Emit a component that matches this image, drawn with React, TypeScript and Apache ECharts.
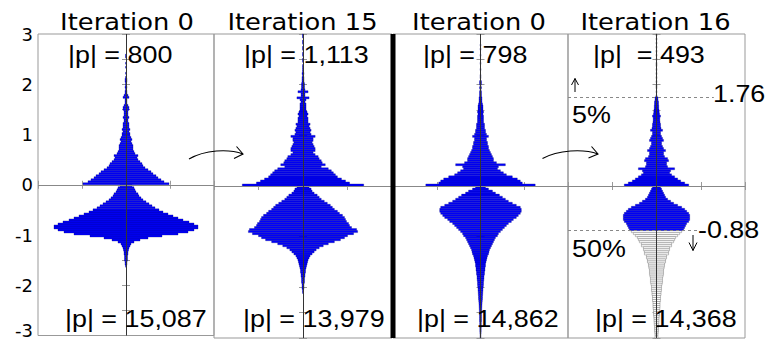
import React, { useEffect, useRef } from 'react';
import * as echarts from 'echarts';

// ---------------- data ----------------
const BIN = 0.04; // histogram bin width on the value (y) axis
const titles = ['Iteration 0', 'Iteration 15', 'Iteration 0', 'Iteration 16'];
const topCounts = ['|p| = 800', '|p| = 1,113', '|p| = 798', '|p|  = 493'];
const bottomCounts = ['|p| = 15,087', '|p| = 13,979', '|p| = 14,862', '|p| = 14,368'];
const yTickValues = [-3, -2, -1, 0, 1, 2, 3];

// half-widths of the bins above zero (from 0 upward) and below zero (from 0 downward)
const p1Up = [43, 38, 35, 32, 30, 27, 25, 22, 19, 17, 16, 14, 12, 11, 12, 9, 8, 7, 7, 7, 6, 5, 6, 5, 4, 4, 3, 4, 3, 3, 3, 2, 2, 3, 2, 2, 2, 3, 3, 2, 1, 1, 1, 3, 2, 1, 1, 0.5, 1, 0.5, 0.5, 1, 1, 0.5, 0, 0.5, 0, 0, 0.5, 0, 0.5, 0, 0, 0.5, 0.5, 0];
const p1Down = [6, 8, 9, 10, 12, 13, 15, 17, 20, 23, 26, 29, 33, 37, 42, 47, 52, 57, 63, 68, 72, 72, 68, 62, 52, 36, 22, 14, 8, 5, 4, 3, 2.5, 2, 2, 1.5, 1.5, 1.5, 1, 1, 0.5];

const p2Up = [60, 46, 42, 38, 34, 32, 30, 28, 25, 18, 22, 19, 18, 16, 15, 12, 10, 12, 12, 11, 10, 9, 10, 10, 12, 8, 7, 8, 7, 6, 7, 5, 5, 5, 4, 5, 4, 3, 3, 3, 3, 2, 3, 6, 2, 2, 5, 2, 1.5, 1.5, 1.5, 1, 1, 1, 0.5, 1, 0.5, 0.5, 0.5, 0.5, 0, 0.5, 0.5, 0, 0.5, 0.5, 0, 0.5, 0.5, 0, 0.5, 0.5, 0, 0.5, 0.5];
const p2Down = [6, 8, 9, 11, 14, 16, 18, 21, 24, 27, 29, 31, 34, 36, 39, 41, 42, 43, 45, 46, 48, 53, 54, 50, 44, 41, 37, 31, 25, 20, 16, 13, 11, 9, 7, 6, 5, 4.5, 4, 3.5, 3, 2.5, 2.5, 2, 2, 1.5, 1.5, 1.5, 1, 1, 1, 0.5, 0.5];

const p3Up = [55, 42, 40, 37, 32, 26, 23, 20, 17, 18, 25, 16, 13, 13, 12, 11, 10, 9, 8, 8, 7, 7, 6, 6, 8, 6, 5, 5, 4, 4, 4, 3, 3, 3, 3, 2.5, 3, 2.5, 2.5, 2.5, 2, 1.5, 1.5, 1.5, 1, 1, 1, 0.5, 1, 0.5, 1, 1, 0, 0.5, 0.5, 0, 0, 0.5, 0, 0, 0.5, 0, 0, 0, 0.5, 0, 0, 0.5, 0, 0.5];
const p3Down = [5, 8, 12, 15, 19, 22, 25, 28, 32, 36, 40, 41, 41, 40, 38, 36, 33, 31, 28, 26, 24, 22, 20, 18, 17, 15, 14, 13, 12, 11, 10, 9, 8.5, 8, 7, 6.5, 6, 5.5, 5, 5, 4.5, 4.5, 4, 4, 3.5, 3.5, 3.3, 3, 3, 2.8, 2.5, 2.5, 2.3, 2.2, 2, 2, 1.8, 1.6, 1.5, 1.4, 1.3, 1.2, 1.1, 1, 1, 1, 1, 0.8, 0.8, 0.8, 0.7, 0.7, 0.6, 0.5, 0.5];

const p4Up = [32, 28, 24, 21, 18, 15, 13, 14, 18, 11, 10, 10, 12, 11, 8, 7, 7, 9, 7, 6, 5, 5, 7, 6, 5, 4, 4, 6, 4.5, 4, 4, 3.5, 3.3, 3.3, 4, 3, 2.7, 2.5, 2.2, 2.2, 2, 2, 1.5, 1.5, 0.5, 0, 0.5, 0, 0.5, 0.5, 0, 0.5, 0, 0.5, 0, 0.5, 0, 0.5, 0, 0.5, 0.5, 0, 0.5, 0, 0.5, 0, 0.5, 0, 0.5, 0, 0.5, 0, 0.5, 0, 0.5];
const p4Down = [4, 5, 6, 7, 8, 9, 11, 14, 17, 21, 25, 28, 30, 32, 33, 33, 33, 32, 30, 29, 28, 27, 25, 23, 21, 19, 18, 17, 15, 15, 13, 13, 12, 12, 10, 10, 9, 9, 8, 8, 7.5, 7, 7, 7, 6.5, 6, 6, 6, 5.5, 5, 5, 5, 4.5, 4.5, 4, 4, 4, 3.5, 3.5, 3.5, 3.3, 3, 3, 3, 2.7, 2.5, 2.5, 2.3, 2.2, 2, 2, 2, 1.7, 1.5, 1.5];

// panel 4 selection thresholds and annotations
const p4Low = -0.88;
const p4High = 1.76;
const cutLabels = ['1.76', '-0.88'];
const pctLabels = ['5%', '50%'];

const panelsUp = [p1Up, p2Up, p3Up, p4Up];
const panelsDown = [p1Down, p2Down, p3Down, p4Down];

// ---------------- layout ----------------
const W = 767;
const H = 339;
const gridLefts = [38, 214, 393, 568];
const gridWidths = [176, 178, 175, 177];
const GRID_TOP = 34;
const GRID_H = 304;
const XR = 88;

const titleX = [127, 302.5, 479, 655.5];
const topCountX = [68, 244, 423, 593];
const bottomCountX = [65, 243, 417, 595];

const BLUE = '#0000ff';
const BLUE_EDGE = '#000078';
const GREY_FILL = '#ffffff';
const GREY_EDGE = '#666666';

type Bin = [number, number, number];

function binsOf(up: number[], down: number[]): Bin[] {
  const out: Bin[] = [];
  up.forEach((w, i) => out.push([+(i * BIN).toFixed(3), +((i + 1) * BIN).toFixed(3), w]));
  down.forEach((w, i) => out.push([+(-(i + 1) * BIN).toFixed(3), +(-i * BIN).toFixed(3), w]));
  return out;
}

const makeRender = (fill: string, stroke: string, lw: number) => (params: any, api: any) => {
  const lo = api.value(0);
  const hi = api.value(1);
  const w = api.value(2);
  if (!w) return null;
  const a = api.coord([-w, hi]);
  const b = api.coord([w, lo]);
  return {
    type: 'rect',
    shape: { x: a[0], y: a[1], width: b[0] - a[0], height: b[1] - a[1] },
    style: { fill, stroke, lineWidth: lw },
  };
};

function txt(text: string, x: number, y: number, opts: any = {}) {
  const align = opts.align || 'left';
  return {
    type: 'text',
    x,
    y,
    scaleX: opts.scaleX ?? 1.12,
    z: 10,
    style: {
      text,
      fontSize: opts.fontSize || 24,
      fontFamily: opts.fontFamily || 'Liberation Sans',
      fill: '#000',
      align,
      textAlign: align,
      verticalAlign: 'middle',
      textVerticalAlign: 'middle',
    },
  };
}

function buildOption() {
  const grid: any[] = [];
  const xAxis: any[] = [];
  const yAxis: any[] = [];
  const series: any[] = [];
  const tickStyle = { inside: true, length: 4, lineStyle: { color: '#999', width: 1 } };

  for (let k = 0; k < 4; k++) {
    grid.push({
      left: gridLefts[k],
      top: GRID_TOP,
      width: gridWidths[k],
      height: GRID_H,
      show: true,
      borderColor: '#999',
      borderWidth: 1,
      backgroundColor: 'transparent',
    });
    for (const pos of ['bottom', 'top']) {
      xAxis.push({
        type: 'value',
        gridIndex: k,
        position: pos,
        min: -XR,
        max: XR,
        interval: 44,
        axisLine: { show: false },
        axisLabel: { show: false },
        splitLine: { show: false },
        axisTick: tickStyle,
      });
    }
    for (const pos of ['left', 'right']) {
      const showLabels = k === 0 && pos === 'left';
      yAxis.push({
        type: 'value',
        gridIndex: k,
        position: pos,
        min: -3,
        max: 3,
        interval: 0.5,
        axisLine: { show: false },
        splitLine: { show: false },
        axisTick: tickStyle,
        axisLabel: {
          show: showLabels,
          margin: 5,
          fontSize: 18,
          fontFamily: 'DejaVu Sans',
          color: '#000',
          formatter: (v: number) => {
            if (!yTickValues.includes(v)) return '';
            if (v === -3) return '{lift|' + String(v) + '}';
            return String(v);
          },
          rich: { lift: { fontSize: 18, fontFamily: 'DejaVu Sans', color: '#000', padding: [0, 0, 11, 0] } },
        },
      });
    }

    const bins = binsOf(panelsUp[k], panelsDown[k]);
    const isIn = (b: Bin) => k !== 3 || (b[0] >= p4Low - 1e-9 && b[1] <= p4High + 1e-9);
    const inside = bins.filter(isIn);
    const outside = bins.filter((b) => !isIn(b));

    const markData: any[] = [
      { yAxis: 0, lineStyle: { color: '#888', width: 1, type: 'solid' } },
      { xAxis: 0, lineStyle: { color: '#333', width: 1, type: 'solid' } },
    ];
    if (k === 3) {
      markData.push([
        { coord: [-XR, p4High], lineStyle: { color: '#888', width: 1, type: [3, 3] } },
        { coord: [57, p4High] },
      ]);
      markData.push([
        { coord: [-XR, p4Low], lineStyle: { color: '#888', width: 1, type: [3, 3] } },
        { coord: [42, p4Low] },
      ]);
    }

    series.push({
      type: 'custom',
      xAxisIndex: 2 * k,
      yAxisIndex: 2 * k,
      data: inside,
      renderItem: makeRender(BLUE, BLUE_EDGE, 0.3),
      silent: true,
      markLine: {
        silent: true,
        symbol: 'none',
        label: { show: false },
        animation: false,
        data: markData,
      },
    });
    if (outside.length) {
      series.push({
        type: 'custom',
        xAxisIndex: 2 * k,
        yAxisIndex: 2 * k,
        data: outside,
        renderItem: makeRender(GREY_FILL, GREY_EDGE, 0.4),
        silent: true,
        z: 1,
      });
    }
  }

  const graphic: any[] = [];
  graphic.push({
    type: 'rect',
    shape: { x: 390.5, y: GRID_TOP, width: 5, height: GRID_H },
    style: { fill: '#000' },
    z: 20,
  });
  for (let k = 0; k < 4; k++) {
    graphic.push(txt(titles[k], titleX[k], 22, { align: 'center', fontFamily: 'DejaVu Sans', fontSize: 23, scaleX: 1.12 }));
    graphic.push(txt(topCounts[k], topCountX[k], 55));
    graphic.push(txt(bottomCounts[k], bottomCountX[k], 319));
  }
  graphic.push(txt(cutLabels[0], 713, 94));
  graphic.push(txt(pctLabels[0], 572, 115));
  graphic.push(txt(cutLabels[1], 698, 230));
  graphic.push(txt(pctLabels[1], 572, 249));

  const arrowStyle = { stroke: '#000', lineWidth: 1, fill: 'none' };
  // small up / down arrows
  graphic.push({ type: 'line', shape: { x1: 575, y1: 92, x2: 575, y2: 78.5 }, style: arrowStyle, z: 10 });
  graphic.push({ type: 'polyline', shape: { points: [[571.5, 85], [575, 78.5], [578.5, 85]] }, style: arrowStyle, z: 10 });
  graphic.push({ type: 'line', shape: { x1: 693, y1: 235, x2: 693, y2: 250.5 }, style: arrowStyle, z: 10 });
  graphic.push({ type: 'polyline', shape: { points: [[689, 242.5], [693, 250.5], [697, 242.5]] }, style: arrowStyle, z: 10 });
  // curved arrows between panels
  const curves = [
    { s: [189, 159], c1: [205, 150], c2: [228, 148.5], e: [243, 154], h1: [236.5, 146.5], h2: [234, 158.5] },
    { s: [542.5, 158.5], c1: [558, 150], c2: [583, 148.5], e: [598, 154], h1: [591.5, 146.5], h2: [588.5, 158] },
  ];
  for (const c of curves) {
    graphic.push({
      type: 'bezierCurve',
      shape: { x1: c.s[0], y1: c.s[1], cpx1: c.c1[0], cpy1: c.c1[1], cpx2: c.c2[0], cpy2: c.c2[1], x2: c.e[0], y2: c.e[1] },
      style: { stroke: '#000', lineWidth: 1.1, fill: 'none' },
      z: 10,
    });
    graphic.push({
      type: 'polyline',
      shape: { points: [c.h1, c.e, c.h2] },
      style: { stroke: '#000', lineWidth: 1.1, fill: 'none' },
      z: 10,
    });
  }

  return {
    animation: false,
    backgroundColor: '#fff',
    grid,
    xAxis,
    yAxis,
    series,
    graphic,
  };
}

export default function App() {
  const ref = useRef<HTMLDivElement>(null);
  useEffect(() => {
    if (!ref.current) return;
    const chart = echarts.init(ref.current, undefined, { renderer: 'svg', width: W, height: H });
    chart.setOption(buildOption() as any);
    return () => chart.dispose();
  }, []);
  return (
    <div
      ref={ref}
      style={{ position: 'fixed', left: 0, top: 0, width: W, height: H, background: '#fff' }}
    />
  );
}
